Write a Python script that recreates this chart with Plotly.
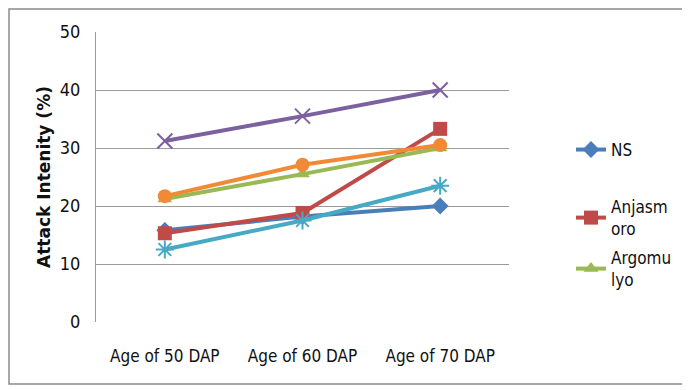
import plotly.graph_objects as go

categories = ["Age of 50 DAP", "Age of 60 DAP", "Age of 70 DAP"]
y_ticks = [0, 10, 20, 30, 40, 50]

series_names = ["NS", "Anjasmoro", "Argomulyo", "Series4", "Series5", "Series6"]
legend_labels = ["NS", "Anjasm<br>oro", "Argomu<br>lyo", None, None, None]
ns = [15.8, 18.2, 20.0]
anjasmoro = [15.3, 18.8, 33.3]
argomulyo = [21.2, 25.5, 30.0]
series4 = [31.2, 35.5, 40.0]
series5 = [12.5, 17.5, 23.5]
series6 = [21.7, 27.1, 30.5]

values = [ns, anjasmoro, argomulyo, series4, series5, series6]
colors = ["#4A7EBB", "#BE4B48", "#98B954", "#7D60A0", "#46AAC5", "#F08A36"]
symbols = ["diamond", "square", "triangle-up", "x-thin-open", "asterisk-open", "circle"]
msizes = [13, 14, 13, 15, 15, 14]
legends = ["legend", "legend2", "legend3", None, None, None]

FONT = "DejaVu Sans Condensed, Liberation Sans Narrow, sans-serif"

fig = go.Figure()
for i in range(6):
    marker = dict(symbol=symbols[i], size=msizes[i], color=colors[i])
    if symbols[i].endswith("open"):
        marker["line"] = dict(color=colors[i], width=2)
    kw = dict(
        x=categories, y=values[i], mode="lines+markers",
        name=legend_labels[i] if legend_labels[i] else series_names[i],
        line=dict(color=colors[i], width=4),
        marker=marker,
        showlegend=legends[i] is not None,
    )
    if legends[i] is not None:
        kw["legend"] = legends[i]
    fig.add_trace(go.Scatter(**kw))

# page body has an 8px margin, so figure coords = screen coords - 8
OFF = 8
W, H = 690 - OFF, 390 - OFF
L, R, T, B = 96 - OFF, 690 - 509, 32 - OFF, 390 - 322
pw, ph = W - L - R, H - T - B

def px_x(x):
    return (x - OFF - L) / pw

def px_y(y):
    return (H - B - (y - OFF)) / ph

legfont = dict(family=FONT, size=17, color="#111")
leg_common = dict(font=legfont, bgcolor="rgba(0,0,0,0)", xanchor="left",
                  yanchor="middle", itemwidth=30)

fig.update_layout(
    width=W, height=H,
    margin=dict(l=L, r=R, t=T, b=B, autoexpand=False),
    paper_bgcolor="white", plot_bgcolor="white",
    font=dict(family=FONT, size=16, color="#111"),
    legend=dict(x=px_x(571), y=px_y(150), **leg_common),
    legend2=dict(x=px_x(571), y=px_y(218), **leg_common),
    legend3=dict(x=px_x(571), y=px_y(269), **leg_common),
    xaxis=dict(
        type="category", range=[-0.5, 2.5], showgrid=False, showline=False,
        zeroline=False, ticks="", ticklabelstandoff=22,
        tickfont=dict(family=FONT, size=17, color="#111"),
    ),
    yaxis=dict(
        range=[0, 50], tickvals=y_ticks, showgrid=True, gridcolor="#9a9a9a",
        gridwidth=1, showline=True, linecolor="#9a9a9a", linewidth=1,
        zeroline=False, ticks="", ticklabelstandoff=11,
        tickfont=dict(family=FONT, size=18, color="#111"),
        title=dict(text="<b>Attack Intenity (%)</b>", standoff=4,
                   font=dict(family="DejaVu Sans, sans-serif", size=17, color="#111")),
    ),
    shapes=[dict(type="rect", xref="paper", yref="paper",
                 x0=px_x(9), x1=px_x(685), y0=px_y(384), y1=px_y(9),
                 line=dict(color="#8a8a8a", width=1.5), layer="below")],
)

fig.write_html("out.html")
